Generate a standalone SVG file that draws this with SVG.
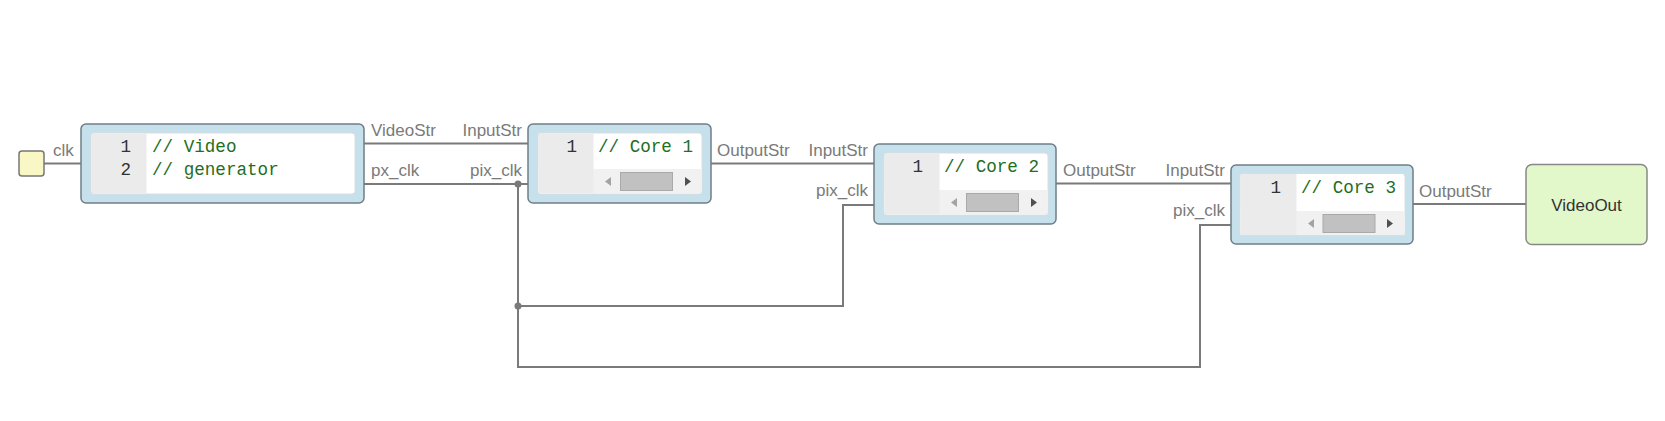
<svg xmlns="http://www.w3.org/2000/svg" width="1665" height="421" viewBox="0 0 1665 421">
<style>
.bg{fill:#ffffff}
.outer{fill:#c6e1eb;stroke:#6f7e86;stroke-width:1.5}
.panel{fill:#ffffff;stroke:#d8dde0;stroke-width:1}
.gutter{fill:#ebebeb}
.scroll{fill:#f1f1f1}
.thumb{fill:#c1c1c1;stroke:#a9a9a9;stroke-width:1}
.arrL{fill:#a3a3a3}
.arrR{fill:#505050}
.ln{font-family:"Liberation Mono","DejaVu Sans Mono",monospace;font-size:17.6px;fill:#333333;text-anchor:end}
.code{font-family:"Liberation Mono","DejaVu Sans Mono",monospace;font-size:17.6px;fill:#1f6f1f}
.lbl{font-family:"Liberation Sans",Arial,sans-serif;font-size:17px;fill:#7a7a7a}
.end{text-anchor:end}
.wire{fill:none;stroke:#7a7a7a;stroke-width:2}
.dot{fill:#7a7a7a}
.name{font-family:"Liberation Sans",Arial,sans-serif;font-size:17px;fill:#333333;text-anchor:middle}
</style>
<rect class="bg" x="0" y="0" width="1665" height="421"/>

<g id="connectors">
  <path class="wire" d="M44,163.5 H81"/>
  <path class="wire" d="M364,143.5 H528"/>
  <path class="wire" d="M364,184 H528"/>
  <path class="wire" d="M518,184 V306 H843 V205 H874"/>
  <path class="wire" d="M518,306 V367 H1200 V225 H1231"/>
  <path class="wire" d="M711,163.5 H874"/>
  <path class="wire" d="M1056,183.5 H1231"/>
  <path class="wire" d="M1413,204 H1526"/>
  <circle class="dot" cx="518" cy="184" r="3.5"/>
  <circle class="dot" cx="518" cy="306" r="3.5"/>
  <text class="lbl" x="53" y="156">clk</text>
  <text class="lbl" x="371" y="136">VideoStr</text>
  <text class="lbl end" x="522" y="136">InputStr</text>
  <text class="lbl" x="371" y="176">px_clk</text>
  <text class="lbl end" x="522" y="176">pix_clk</text>
  <text class="lbl" x="717" y="156">OutputStr</text>
  <text class="lbl end" x="868" y="156">InputStr</text>
  <text class="lbl end" x="868" y="196">pix_clk</text>
  <text class="lbl" x="1063" y="176">OutputStr</text>
  <text class="lbl end" x="1225" y="176">InputStr</text>
  <text class="lbl end" x="1225" y="216">pix_clk</text>
  <text class="lbl" x="1419" y="197">OutputStr</text>
</g>

<g id="clk">
  <rect x="19" y="151" width="25" height="25" rx="3" fill="#f9f7c6" stroke="#777777" stroke-width="1.5"/>
</g>

<g id="videogen">
  <rect class="outer" x="81" y="124" width="283" height="79" rx="5"/>
  <rect class="panel" x="91" y="133" width="264" height="61" rx="3"/>
  <rect class="gutter" x="91.5" y="133.5" width="55" height="60"/>
  <text class="ln" x="131" y="152">1</text>
  <text class="ln" x="131" y="175">2</text>
  <text class="code" x="152" y="152">// Video</text>
  <text class="code" x="152" y="175">// generator</text>
</g>

<g id="core1" transform="translate(528,124)">
  <rect class="outer" x="0" y="0" width="183" height="79" rx="5"/>
  <rect class="panel" x="10" y="9" width="164" height="61" rx="3"/>
  <rect class="scroll" x="10.5" y="45" width="163" height="24.5"/>
  <rect class="gutter" x="10.5" y="9.5" width="55" height="59.5"/>
  <rect class="thumb" x="92.5" y="48.5" width="52" height="18"/>
  <path class="arrL" d="M83,53 L77,57.5 L83,62 Z"/>
  <path class="arrR" d="M157,53 L163,57.5 L157,62 Z"/>
  <text class="ln" x="49" y="28">1</text>
  <text class="code" x="70" y="28">// Core 1</text>
</g>

<g id="core2" transform="translate(874,144)">
  <rect class="outer" x="0" y="0" width="182" height="80" rx="5"/>
  <rect class="panel" x="10" y="9" width="164" height="62" rx="3"/>
  <rect class="scroll" x="10.5" y="46" width="163" height="24.5"/>
  <rect class="gutter" x="10.5" y="9.5" width="55" height="60.5"/>
  <rect class="thumb" x="92.5" y="49.5" width="52" height="18"/>
  <path class="arrL" d="M83,54 L77,58.5 L83,63 Z"/>
  <path class="arrR" d="M157,54 L163,58.5 L157,63 Z"/>
  <text class="ln" x="49" y="28">1</text>
  <text class="code" x="70" y="28">// Core 2</text>
</g>

<g id="core3" transform="translate(1231,165)">
  <rect class="outer" x="0" y="0" width="182" height="79" rx="5"/>
  <rect class="panel" x="9" y="8.5" width="165" height="62" rx="3"/>
  <rect class="scroll" x="9.5" y="46" width="164" height="24"/>
  <rect class="gutter" x="9.5" y="9" width="56" height="61"/>
  <rect class="thumb" x="92" y="49.5" width="52" height="18"/>
  <path class="arrL" d="M83,54 L77,58.5 L83,63 Z"/>
  <path class="arrR" d="M156,54 L162,58.5 L156,63 Z"/>
  <text class="ln" x="50" y="28">1</text>
  <text class="code" x="70" y="28">// Core 3</text>
</g>

<g id="videoout">
  <rect x="1526" y="164.5" width="121" height="80" rx="6" fill="#e2f8cb" stroke="#888888" stroke-width="1.5"/>
  <text class="name" x="1586.5" y="211">VideoOut</text>
</g>
</svg>
